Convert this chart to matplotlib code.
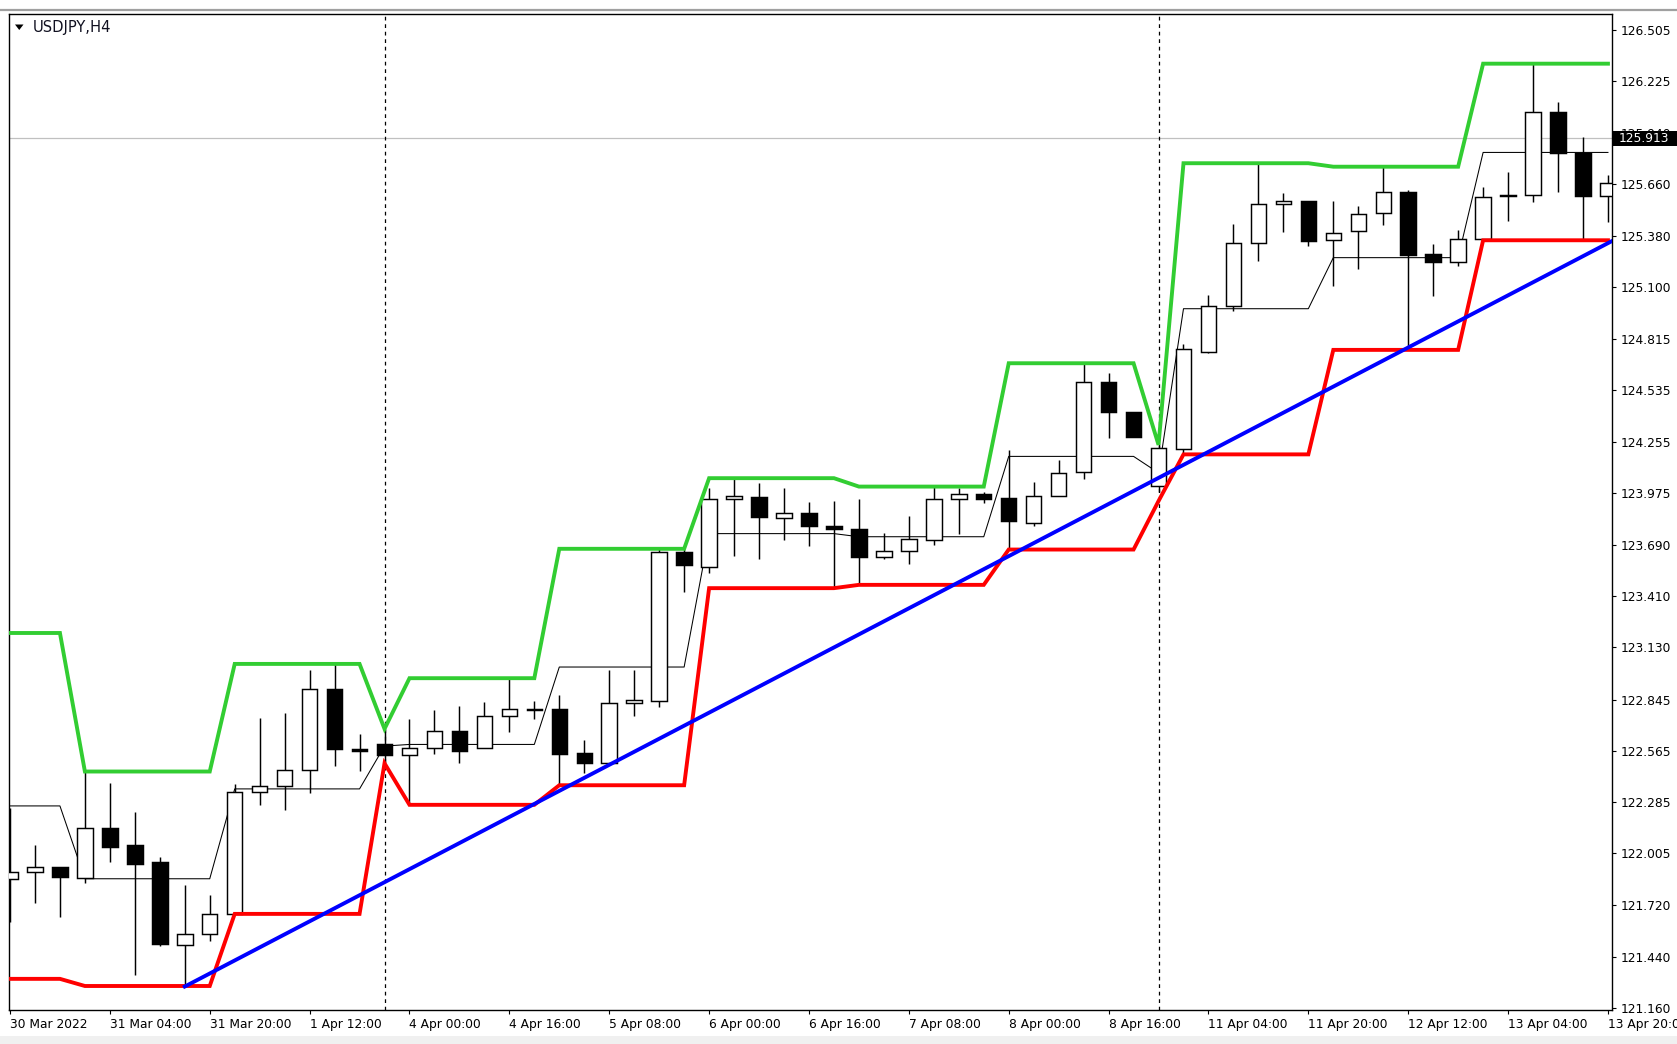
import matplotlib
matplotlib.use("Agg")
import matplotlib.pyplot as plt
from matplotlib.patches import Rectangle, Polygon
from matplotlib.lines import Line2D

# ---------------- data ----------------
opens = [121.863, 121.905, 121.932, 121.872, 122.145, 122.051, 121.960, 121.505, 121.565, 121.674,
         122.339, 122.374, 122.462, 122.903, 122.575, 122.603, 122.543, 122.578, 122.674, 122.578,
         122.756, 122.792, 122.792, 122.552, 122.501, 122.825, 122.840, 123.654, 123.572, 123.940,
         123.951, 123.839, 123.867, 123.796, 123.778, 123.623, 123.659, 123.718, 123.940, 123.967,
         123.945, 123.812, 123.958, 124.091, 124.579, 124.419, 124.013, 124.215, 124.747, 124.998,
         125.339, 125.552, 125.570, 125.357, 125.408, 125.503, 125.621, 125.279, 125.235, 125.362,
         125.602, 125.603, 126.055, 125.831, 125.599]
highs = [122.251, 122.051, 121.932, 122.452, 122.391, 122.233, 121.984, 121.832, 121.778, 122.384,
         122.743, 122.771, 123.007, 123.040, 122.656, 122.685, 122.740, 122.786, 122.811, 122.834,
         122.965, 122.838, 122.871, 122.625, 123.007, 123.007, 123.669, 123.669, 124.000, 124.055,
         124.027, 124.000, 123.927, 123.932, 123.942, 123.757, 123.849, 124.009, 124.000, 123.982,
         124.210, 124.036, 124.155, 124.683, 124.628, 124.419, 124.237, 124.790, 125.056, 125.443,
         125.776, 125.615, 125.570, 125.570, 125.544, 125.757, 125.630, 125.333, 125.412, 125.648,
         125.730, 126.320, 126.113, 125.918, 125.712]
lows = [121.632, 121.732, 121.656, 121.842, 121.960, 121.341, 121.500, 121.277, 121.528, 121.674,
        122.270, 122.243, 122.337, 122.482, 122.457, 122.497, 122.270, 122.548, 122.501, 122.578,
        122.670, 122.738, 122.375, 122.443, 122.500, 122.756, 122.807, 123.435, 123.536, 123.630,
        123.614, 123.718, 123.685, 123.454, 123.472, 123.612, 123.586, 123.690, 123.750, 123.918,
        123.665, 123.794, 123.958, 124.049, 124.273, 124.282, 123.981, 124.185, 124.738, 124.969,
        125.244, 125.402, 125.326, 125.107, 125.198, 125.439, 124.756, 125.053, 125.217, 125.362,
        125.461, 125.563, 125.618, 125.355, 125.457]
closes = [121.905, 121.932, 121.878, 122.142, 122.038, 121.946, 121.510, 121.565, 121.674, 122.339,
          122.374, 122.462, 122.903, 122.575, 122.565, 122.543, 122.578, 122.674, 122.566, 122.756,
          122.792, 122.786, 122.548, 122.501, 122.825, 122.843, 123.654, 123.581, 123.940, 123.960,
          123.845, 123.863, 123.796, 123.778, 123.623, 123.659, 123.721, 123.940, 123.967, 123.940,
          123.820, 123.958, 124.085, 124.579, 124.419, 124.282, 124.222, 124.760, 124.998, 125.339,
          125.552, 125.570, 125.353, 125.397, 125.499, 125.621, 125.275, 125.235, 125.362, 125.594,
          125.596, 126.055, 125.834, 125.599, 125.670]

upper_band = [123.209, 123.209, 123.209, 122.452, 122.452, 122.452, 122.452, 122.452, 122.452, 123.040,
              123.040, 123.040, 123.040, 123.040, 123.040, 122.685, 122.962, 122.962, 122.962, 122.962,
              122.962, 122.962, 123.669, 123.669, 123.669, 123.669, 123.669, 123.669, 124.055, 124.055,
              124.055, 124.055, 124.055, 124.055, 124.009, 124.009, 124.009, 124.009, 124.009, 124.009,
              124.683, 124.683, 124.683, 124.683, 124.683, 124.683, 124.237, 125.776, 125.776, 125.776,
              125.776, 125.776, 125.776, 125.757, 125.757, 125.757, 125.757, 125.757, 125.757, 126.320,
              126.320, 126.320, 126.320, 126.320, 126.320]
lower_band = [121.319, 121.319, 121.319, 121.280, 121.280, 121.280, 121.280, 121.280, 121.280, 121.674,
              121.674, 121.674, 121.674, 121.674, 121.674, 122.497, 122.270, 122.270, 122.270, 122.270,
              122.270, 122.270, 122.377, 122.377, 122.377, 122.377, 122.377, 122.377, 123.454, 123.454,
              123.454, 123.454, 123.454, 123.454, 123.472, 123.472, 123.472, 123.472, 123.472, 123.472,
              123.665, 123.665, 123.665, 123.665, 123.665, 123.665, 123.930, 124.185, 124.185, 124.185,
              124.185, 124.185, 124.185, 124.756, 124.756, 124.756, 124.756, 124.756, 124.756, 125.355,
              125.355, 125.355, 125.355, 125.355, 125.355]
middle_line = [122.264, 122.264, 122.264, 121.866, 121.866, 121.866, 121.866, 121.866, 121.866, 122.357,
               122.357, 122.357, 122.357, 122.357, 122.357, 122.591, 122.600, 122.600, 122.600, 122.600,
               122.600, 122.600, 123.023, 123.023, 123.023, 123.023, 123.023, 123.023, 123.752, 123.752,
               123.752, 123.752, 123.752, 123.752, 123.735, 123.735, 123.735, 123.735, 123.735, 123.735,
               124.174, 124.174, 124.174, 124.174, 124.174, 124.174, 124.084, 124.981, 124.981, 124.981,
               124.981, 124.981, 124.981, 125.260, 125.260, 125.260, 125.260, 125.260, 125.260, 125.835,
               125.835, 125.835, 125.835, 125.835, 125.835]

trend_x = [7, 64.15]
trend_y = [121.277, 125.350]
bid_price = 125.913
separator_bars = [15, 46]

price_ticks = [126.505, 126.225, 125.940, 125.660, 125.380, 125.100, 124.815, 124.535, 124.255,
               123.975, 123.690, 123.410, 123.130, 122.845, 122.565, 122.285, 122.005, 121.720,
               121.440, 121.160]
date_tick_bars = [0, 4, 8, 12, 16, 20, 24, 28, 32, 36, 40, 44, 48, 52, 56, 60, 64]
date_labels = ["30 Mar 2022", "31 Mar 04:00", "31 Mar 20:00", "1 Apr 12:00", "4 Apr 00:00",
               "4 Apr 16:00", "5 Apr 08:00", "6 Apr 00:00", "6 Apr 16:00", "7 Apr 08:00",
               "8 Apr 00:00", "8 Apr 16:00", "11 Apr 04:00", "11 Apr 20:00", "12 Apr 12:00",
               "13 Apr 04:00", "13 Apr 20:00"]
symbol_title = "USDJPY,H4"

# ---------------- figure ----------------
W, H = 1677, 1044
plt.rcParams['font.family'] = ['DejaVu Sans']
fig = plt.figure(figsize=(W / 100, H / 100), dpi=100)
fig.patch.set_facecolor('white')

ax_left, ax_right, ax_top, ax_bottom = 9.0, 1611.7, 13.9, 1009.6
ax = fig.add_axes([ax_left / W, 1 - ax_bottom / H, (ax_right - ax_left) / W, (ax_bottom - ax_top) / H])
ax.set_facecolor('white')

n = len(opens)
xs = list(range(n))

# middle line (behind candles)
ax.plot(xs, middle_line, color='black', lw=0.75, zorder=2)

# bid line
ax.axhline(bid_price, color='#c0c0c0', lw=0.9, zorder=1)

# period separators
for b in separator_bars:
    ax.axvline(b, color='black', lw=0.9, ls=(0, (3, 3)), zorder=1.5)

# candles
body_w = 0.62
for i in range(n):
    o, h, l, c = opens[i], highs[i], lows[i], closes[i]
    ax.plot([i, i], [l, h], color='black', lw=1.05, zorder=3, solid_capstyle='butt')
    bottom = min(o, c)
    height = max(abs(c - o), 0.006)
    fc = 'white' if c >= o else 'black'
    ax.add_patch(Rectangle((i - body_w / 2, bottom), body_w, height, facecolor=fc,
                           edgecolor='black', lw=1.05, zorder=3.2))

# channel lines
ax.plot(xs, upper_band, color='#32CD32', lw=2.8, zorder=4, solid_joinstyle='miter')
ax.plot(xs, lower_band, color='#FF0000', lw=2.8, zorder=4, solid_joinstyle='miter')
# trend line
ax.plot(trend_x, trend_y, color='#0000FF', lw=2.8, zorder=5)

ax.set_xlim(-0.04, 64.15)
ax.set_ylim(121.151, 126.592)

for s in ax.spines.values():
    s.set_color('black')
    s.set_linewidth(1.0)

ax.yaxis.tick_right()
ax.set_yticks(price_ticks)
ax.set_yticklabels([f"{v:.3f}" for v in price_ticks])
ax.set_xticks(date_tick_bars)
ax.set_xticklabels(date_labels)
ax.tick_params(axis='both', direction='out', length=3.0, width=0.8, colors='black',
               labelsize=8.8, labelcolor='black')
ax.tick_params(axis='y', pad=3.5)
ax.tick_params(axis='x', pad=2.8)
for lbl in ax.get_xticklabels():
    lbl.set_ha('left')

# bid label box on price axis
box_x0, box_x1, box_y0, box_y1 = 1613.3, 1677.0, 130.5, 146.0
fig.add_artist(Rectangle((box_x0 / W, 1 - box_y1 / H), (box_x1 - box_x0) / W, (box_y1 - box_y0) / H,
                         transform=fig.transFigure, facecolor='black', edgecolor='none', zorder=5))
fig.text(1618.5 / W, 1 - 138.2 / H, f"{bid_price:.3f}", color='white', fontsize=8.8,
         va='center', ha='left', zorder=6)

# symbol label with triangle
fig.add_artist(Polygon([(15 / W, 1 - 24.5 / H), (23.5 / W, 1 - 24.5 / H), (19.25 / W, 1 - 30 / H)],
                       closed=True, transform=fig.transFigure, facecolor='black', edgecolor='none', zorder=5))
fig.text(33 / W, 1 - 27.5 / H, symbol_title, color='#101020', fontsize=10.6, va='center', ha='left', zorder=6)

# window decorations
fig.add_artist(Line2D([0, 1], [1 - 10 / H, 1 - 10 / H], color='#a0a0a0', lw=1.6, transform=fig.transFigure))
fig.add_artist(Rectangle((0, 0), 1, 8 / H, transform=fig.transFigure, facecolor='#f0f0f0',
                         edgecolor='none', zorder=0))

fig.savefig("out.png", dpi=100, facecolor='white')
